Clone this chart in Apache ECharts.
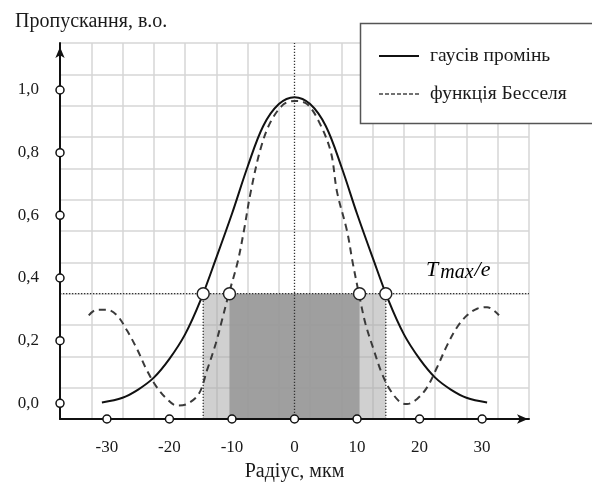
<!DOCTYPE html>
<html>
<head>
<meta charset="utf-8">
<script src="https://cdn.jsdelivr.net/npm/echarts@6/dist/echarts.min.js"></script>
<style>
  html, body { margin: 0; padding: 0; background: #fff; }
  #chart { width: 592px; height: 484px; }
</style>
</head>
<body>
<div id="chart"></div>
<script>
// радіус, мкм / пропускання
const gaussX = [-30.8, -27.5, -25, -22.5, -20, -17.5, -15, -12.5, -10, -7.5, -5, -2.5, 0,
                 2.5, 5, 7.5, 10, 12.5, 15, 17.5, 20, 22.5, 25, 27.5, 30.8];
const gaussY = [0.003, 0.018, 0.044, 0.082, 0.142, 0.22, 0.33, 0.465, 0.605, 0.755, 0.885, 0.955, 0.977,
                 0.955, 0.885, 0.755, 0.605, 0.465, 0.33, 0.22, 0.142, 0.082, 0.044, 0.018, 0.003];

const besselX = [-32.9, -31.6, -30.0, -28.4, -26.8, -25.2, -23.6, -22.0, -20.4, -18.8, -17.2, -15.3, -14.0, -12.6, -11.6,
                  -10.5, -9.1, -8.1, -7.0, -5.4, -3.8, -1.7, 0, 2.0, 3.9, 5.8, 6.8, 8.4, 9.3, 10.3, 11.35, 12.7, 14.0,
                  15.35, 16.95, 18.0, 19.6, 21.2, 22.8, 24.4, 26.0, 27.6, 29.2, 30.8, 32.7];
const besselY = [0.281, 0.299, 0.299, 0.281, 0.233, 0.174, 0.105, 0.051, 0.014, -0.007, -0.002, 0.03, 0.105, 0.19, 0.265,
                  0.35, 0.45, 0.55, 0.675, 0.814, 0.899, 0.955, 0.965, 0.955, 0.899, 0.803, 0.675, 0.55, 0.45, 0.35, 0.254, 0.169, 0.094,
                  0.041, 0.003, -0.002, 0.014, 0.051, 0.115, 0.185, 0.243, 0.281, 0.302, 0.307, 0.281];

const xTicks = [-30, -20, -10, 0, 10, 20, 30];
const yTicks = [0, 0.2, 0.4, 0.6, 0.8, 1.0];

const level = 0.35;        // Tmax/e
const gaussCross = 14.6;
const besselCross = 10.4;

const xMin = -37.5, xMax = 37.5;
const yMin = -0.05, yMax = 1.15;

const serif = "'Liberation Serif', 'DejaVu Serif', serif";
const textColor = "#1a1a1a";

const pair = (xs, ys) => xs.map((x, i) => [x, ys[i]]);

const chart = echarts.init(document.getElementById("chart"));

const dotted = {
    color: "#333",
    width: 1.3,
    type: [1.3, 1.7],
};

const options = {
    backgroundColor: "#fff",
    animation: false,
    title: {
        text: "Пропускання, в.о.",
        left: 10,
        top: 7,
        textStyle: {
            fontFamily: serif,
            fontSize: 20,
            fontWeight: "normal",
            color: textColor,
        },
    },
    legend: {
        orient: "vertical",
        left: 378,
        top: 46,
        padding: 0,
        itemWidth: 40,
        itemHeight: 14,
        itemGap: 18,
        z: 20,
        itemStyle: { opacity: 0 },
        textStyle: {
            fontFamily: serif,
            fontSize: 19.5,
            color: textColor,
            padding: [0, 0, 0, 6],
        },
        data: [
            { name: "гаусів промінь", lineStyle: { width: 2, color: "#111" } },
            { name: "функція Бесселя", lineStyle: { width: 1.3, type: [4, 2], color: "#444" } },
        ],
    },
    graphic: [
        {
            type: "rect",
            z: 10,
            shape: { x: 360.5, y: 23.5, width: 240, height: 100 },
            style: { fill: "#fff", stroke: "#555", lineWidth: 1.5 },
        },
        {
            type: "text",
            left: 426,
            top: 259,
            z: 10,
            style: {
                text: "{t|T}{s|max}{t|/e}",
                rich: {
                    t: { fontFamily: serif, fontStyle: "italic", fontSize: 22, color: textColor },
                    s: { fontFamily: serif, fontStyle: "italic", fontSize: 20, color: textColor, padding: [6, 1, 0, 2] },
                },
            },
        },
    ],
    grid: {
        left: 60,
        right: 63,
        top: 43,
        bottom: 65,
        outerBoundsMode: "none",
    },
    xAxis: [
        {
            type: "value",
            min: xMin,
            max: xMax,
            interval: 2.5,
            name: "Радіус, мкм",
            nameLocation: "middle",
            nameGap: 43,
            nameTextStyle: { fontFamily: serif, fontSize: 20, color: textColor },
            axisLine: {
                onZero: false,
                lineStyle: { color: "#111", width: 2 },
                symbol: ["none", "arrow"],
                symbolSize: [7, 11],
                symbolOffset: [0, -1],
            },
            axisTick: { show: false },
            splitLine: { show: false },
            axisLabel: {
                margin: 20,
                fontFamily: serif,
                fontSize: 17,
                color: textColor,
                showMinLabel: false,
                showMaxLabel: false,
                formatter: (v) => (xTicks.indexOf(Math.round(v * 10) / 10) >= 0 ? String(v) : ""),
            },
            z: 6,
        },
        {
            // сітка
            type: "value",
            min: 0,
            max: 75,
            interval: 5,
            position: "top",
            axisLine: { show: false },
            axisTick: { show: false },
            axisLabel: { show: false },
            splitLine: { show: true, lineStyle: { color: "#d6d6d6", width: 1.5 } },
        },
    ],
    yAxis: [
        {
            type: "value",
            min: yMin,
            max: yMax,
            interval: 0.05,
            axisLine: {
                onZero: false,
                lineStyle: { color: "#111", width: 2 },
                symbol: ["none", "arrow"],
                symbolSize: [7, 11],
                symbolOffset: [0, -4],
            },
            axisTick: { show: false },
            splitLine: { show: false },
            axisLabel: {
                margin: 21,
                fontFamily: serif,
                fontSize: 17,
                color: textColor,
                formatter: (v) => {
                    const hit = yTicks.some((t) => Math.abs(t - v) < 1e-6);
                    return hit ? v.toFixed(1).replace(".", ",") : "";
                },
            },
            z: 6,
        },
        {
            type: "value",
            min: 0,
            max: 1.2,
            interval: 0.1,
            position: "right",
            axisLine: { show: false },
            axisTick: { show: false },
            axisLabel: { show: false },
            splitLine: { show: true, lineStyle: { color: "#d6d6d6", width: 1.5 } },
        },
    ],
    series: [
        {
            // області
            type: "line",
            data: [],
            silent: true,
            markArea: {
                silent: true,
                data: [
                    [
                        { coord: [-gaussCross, yMin], itemStyle: { color: "rgba(170,170,170,0.55)", opacity: 1 } },
                        { coord: [gaussCross, level] },
                    ],
                    [
                        { coord: [-besselCross, yMin], itemStyle: { color: "rgba(153,153,153,0.9)", opacity: 1 } },
                        { coord: [besselCross, level] },
                    ],
                ],
            },
        },
        {
            type: "line",
            symbol: "none",
            silent: true,
            lineStyle: dotted,
            data: [[xMin, level], [xMax, level]],
            z: 3,
        },
        {
            type: "line",
            symbol: "none",
            silent: true,
            lineStyle: dotted,
            data: [[0, yMin], [0, yMax]],
            z: 3,
        },
        {
            type: "line",
            symbol: "none",
            silent: true,
            lineStyle: dotted,
            data: [[-gaussCross, yMin], [-gaussCross, level]],
            z: 3,
        },
        {
            type: "line",
            symbol: "none",
            silent: true,
            lineStyle: dotted,
            data: [[gaussCross, yMin], [gaussCross, level]],
            z: 3,
        },
        {
            name: "гаусів промінь",
            type: "line",
            symbol: "none",
            smooth: 0.35,
            lineStyle: { color: "#111", width: 2 },
            itemStyle: { color: "#111" },
            data: pair(gaussX, gaussY),
            z: 5,
        },
        {
            name: "функція Бесселя",
            type: "line",
            symbol: "none",
            smooth: 0.35,
            lineStyle: { color: "#3a3a3a", width: 2, type: [7, 5] },
            itemStyle: { color: "#3a3a3a" },
            data: pair(besselX, besselY),
            z: 5,
        },
        {
            // точки перетину
            type: "scatter",
            symbol: "circle",
            symbolSize: 12,
            clip: false,
            silent: true,
            itemStyle: { color: "#fff", borderColor: "#222", borderWidth: 1.5, opacity: 1 },
            data: [[-gaussCross, level], [-besselCross, level], [besselCross, level], [gaussCross, level]],
            z: 8,
        },
        {
            // мітки на осях
            type: "scatter",
            symbol: "circle",
            symbolSize: 8,
            clip: false,
            silent: true,
            itemStyle: { color: "#fff", borderColor: "#111", borderWidth: 1.5, opacity: 1 },
            data: xTicks.map((x) => [x, yMin]).concat(yTicks.map((y) => [xMin, y])),
            z: 8,
        },
    ],
};

chart.setOption(options);
</script>
</body>
</html>
